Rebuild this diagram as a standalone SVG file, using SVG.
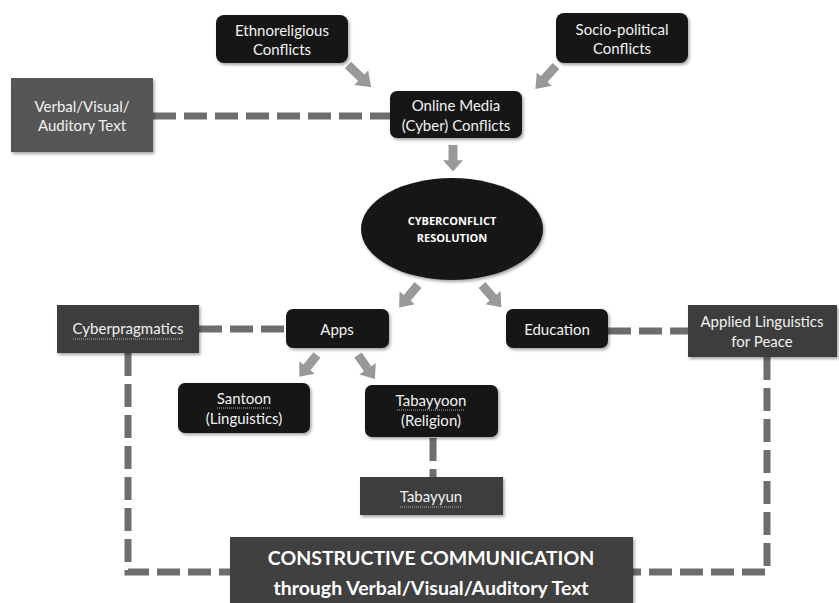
<svg xmlns="http://www.w3.org/2000/svg" xmlns:xlink="http://www.w3.org/1999/xlink" width="839" height="603" viewBox="0 0 839 603">
<style>
.blk{fill:#161616;}
.gry{fill:#3c3c3c;}
.lgry{fill:#575757;}
.t{font-family:"Lato","Open Sans",sans-serif;font-size:15px;fill:#f2f2f2;text-anchor:middle;dominant-baseline:central;}
.tb{font-family:"Open Sans","Lato",sans-serif;font-weight:bold;font-size:11px;fill:#ffffff;text-anchor:middle;dominant-baseline:central;}
.big{font-family:"Lato","Open Sans",sans-serif;font-weight:bold;font-size:19.5px;fill:#ffffff;text-anchor:middle;dominant-baseline:central;}
.dash{fill:none;stroke:#6d6d6d;stroke-width:7;stroke-dasharray:23 8;}
.arrow{fill:#999999;}
.sq{stroke:#b0b0b0;stroke-width:1;stroke-dasharray:1 1;fill:none;}
</style>
<defs>
<filter id="sh" x="-10%" y="-10%" width="125%" height="130%">
<feDropShadow dx="1.5" dy="2" stdDeviation="1.5" flood-color="#000" flood-opacity="0.35"/>
</filter>
<path id="arr" d="M0,-4.5 L16,-4.5 L16,-10 L28,0 L16,10 L16,4.5 L0,4.5 Z"/>
</defs>
<rect width="839" height="603" fill="#ffffff"/>
<g id="connectors">
<path class="dash" d="M153,116 H390"/>
<path class="dash" d="M199,329 H286"/>
<path class="dash" d="M608,331 H688"/>
<path class="dash" d="M433,438 V477"/>
<path class="dash" d="M128,353 V572 H230"/>
<path class="dash" d="M767,357 V572 H633"/>
<g class="arrow">
<use xlink:href="#arr" transform="translate(348,65) rotate(44) scale(1.15,1)"/>
<use xlink:href="#arr" transform="translate(556,66) rotate(132) scale(1.1,1)"/>
<use xlink:href="#arr" transform="translate(453,145) rotate(90) scale(0.95,1)"/>
<use xlink:href="#arr" transform="translate(418,285) rotate(130) scale(1.05,1)"/>
<use xlink:href="#arr" transform="translate(482,285) rotate(49) scale(1.05,1)"/>
<use xlink:href="#arr" transform="translate(317,355) rotate(129)"/>
<use xlink:href="#arr" transform="translate(358,355) rotate(55) scale(1.05,1)"/>
</g>
</g>
<g id="ethnoreligious">
<rect class="blk" x="216" y="15" width="132" height="48" rx="8" filter="url(#sh)"/>
<text class="t" x="282" y="30">Ethnoreligious</text>
<text class="t" x="282" y="49">Conflicts</text>
</g>
<g id="sociopolitical">
<rect class="blk" x="556" y="13" width="132" height="50" rx="8" filter="url(#sh)"/>
<text class="t" x="622" y="29">Socio-political</text>
<text class="t" x="622" y="48">Conflicts</text>
</g>
<g id="verbal">
<rect class="lgry" x="11" y="78" width="142" height="74" filter="url(#sh)"/>
<text class="t" x="82" y="106">Verbal/Visual/</text>
<text class="t" x="82" y="125">Auditory Text</text>
</g>
<g id="online">
<rect class="blk" x="390" y="91" width="132" height="47" rx="7" filter="url(#sh)"/>
<text class="t" x="456" y="105">Online Media</text>
<text class="t" x="456" y="125">(Cyber) Conflicts</text>
</g>
<g id="resolution">
<ellipse class="blk" cx="452" cy="229" rx="91" ry="51" filter="url(#sh)"/>
<text class="tb" x="452" y="220">CYBERCONFLICT</text>
<text class="tb" x="452" y="237">RESOLUTION</text>
</g>
<g id="apps">
<rect class="blk" x="286" y="309" width="103" height="39" rx="7" filter="url(#sh)"/>
<text class="t" x="337" y="329">Apps</text>
</g>
<g id="education">
<rect class="blk" x="506" y="309" width="102" height="39" rx="7" filter="url(#sh)"/>
<text class="t" x="557" y="329">Education</text>
</g>
<g id="cyberpragmatics">
<rect class="gry" x="57" y="305" width="142" height="48" filter="url(#sh)"/>
<text class="t" x="128" y="328">Cyberpragmatics</text>
<path class="sq" d="M73,339 H183"/>
</g>
<g id="applied">
<rect class="gry" x="688" y="305" width="149" height="52" filter="url(#sh)"/>
<text class="t" x="762" y="321">Applied Linguistics</text>
<text class="t" x="762" y="341">for Peace</text>
</g>
<g id="santoon">
<rect class="blk" x="178" y="383" width="132" height="50" rx="7" filter="url(#sh)"/>
<text class="t" x="244" y="398">Santoon</text>
<path class="sq" d="M217,408 H271"/>
<text class="t" x="244" y="418">(Linguistics)</text>
</g>
<g id="tabayyoon">
<rect class="blk" x="365" y="385" width="133" height="52" rx="7" filter="url(#sh)"/>
<text class="t" x="431" y="400">Tabayyoon</text>
<path class="sq" d="M397,410 H465"/>
<text class="t" x="431" y="420">(Religion)</text>
</g>
<g id="tabayyun">
<rect class="gry" x="360" y="477" width="143" height="38" filter="url(#sh)"/>
<text class="t" x="431" y="496">Tabayyun</text>
<path class="sq" d="M400,507 H462"/>
</g>
<g id="constructive">
<rect x="230" y="537" width="403" height="70" fill="#404040" filter="url(#sh)"/>
<text class="big" x="431" y="557">CONSTRUCTIVE COMMUNICATION</text>
<text class="big" x="431" y="587">through Verbal/Visual/Auditory Text</text>
</g>
</svg>
